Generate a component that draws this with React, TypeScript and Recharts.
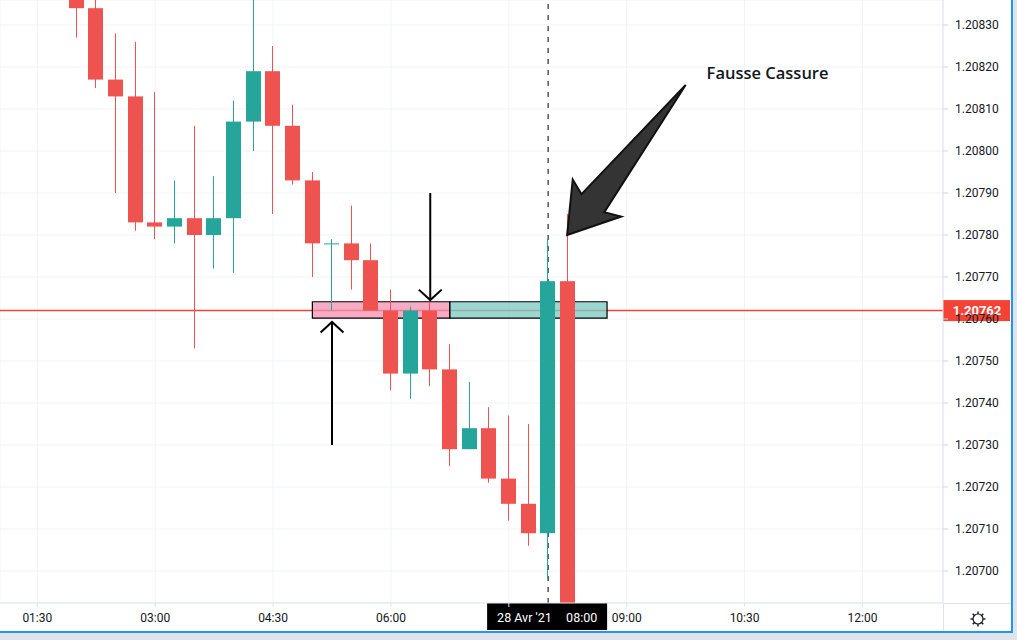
import React from 'react';
import {
  ComposedChart,
  Bar,
  XAxis,
  YAxis,
  CartesianGrid,
  ReferenceLine,
  ReferenceArea,
  ReferenceDot,
} from 'recharts';

// EUR/USD 15 min candles, 28 Avr '21 — time in minutes since 00:00
const times = [120, 135, 150, 165, 180, 195, 210, 225, 240, 255, 270, 285, 300, 315, 330, 345, 360, 375, 390, 405, 420, 435, 450, 465, 480, 495];
const opens = [1.2084, 1.20834, 1.20817, 1.20813, 1.20783, 1.20782, 1.20784, 1.2078, 1.20784, 1.20807, 1.20819, 1.20806, 1.20793, 1.20778, 1.20778, 1.20774, 1.20762, 1.20747, 1.20762, 1.20748, 1.20729, 1.20734, 1.20722, 1.20716, 1.20709, 1.20769];
const highs = [1.20846, 1.20841, 1.20828, 1.20826, 1.20814, 1.20793, 1.20806, 1.20794, 1.20812, 1.20842, 1.20825, 1.20811, 1.20795, 1.20779, 1.20787, 1.20778, 1.20767, 1.20763, 1.20764, 1.20754, 1.20745, 1.20739, 1.20737, 1.20735, 1.20779, 1.20785];
const lows = [1.20827, 1.20815, 1.2079, 1.20781, 1.20779, 1.20778, 1.20753, 1.20772, 1.20771, 1.208, 1.20785, 1.20792, 1.2077, 1.20762, 1.20767, 1.20762, 1.20743, 1.20741, 1.20744, 1.20725, 1.20729, 1.20721, 1.20712, 1.20706, 1.20698, 1.2067];
const closes = [1.20834, 1.20817, 1.20813, 1.20783, 1.20782, 1.20784, 1.2078, 1.20784, 1.20807, 1.20819, 1.20806, 1.20793, 1.20778, 1.20778, 1.20774, 1.20762, 1.20747, 1.20762, 1.20748, 1.20729, 1.20734, 1.20722, 1.20716, 1.20709, 1.20769, 1.20675];

const timeTicks = [90, 180, 270, 360, 450, 540, 630, 720];
const priceTicks = [1.207, 1.2071, 1.2072, 1.2073, 1.2074, 1.2075, 1.2076, 1.2077, 1.2078, 1.2079, 1.208, 1.2081, 1.2082, 1.2083];
const timeDomain = [61.5, 781.5];
const priceDomain = [1.2069238, 1.2083595];

const lastPrice = 1.20762;
const crosshairTime = 480;
const crosshairDate = "28 Avr '21";

// support zone drawn on the chart
const zoneBottom = 1.207602;
const zoneTop = 1.207641;
const zoneStart = 300;
const zoneSplit = 405;
const zoneEnd = 525;

const UP = '#26a69a';
const DOWN = '#ef5350';
const FONT = 'Roboto, "Open Sans", sans-serif';

const candles = times.map((t, i) => ({
  t,
  o: opens[i],
  h: highs[i],
  l: lows[i],
  c: closes[i],
  range: [lows[i], highs[i]],
}));

const fmtTime = (m: number) =>
  `${String(Math.floor(m / 60)).padStart(2, '0')}:${String(m % 60).padStart(2, '0')}`;

function Candle(props: any) {
  const { x, y, width, height, payload } = props;
  if (x == null || !payload) return null;
  const { o, h, l, c } = payload;
  const top = Math.min(y, y + height);
  const span = Math.abs(height);
  const k = h === l ? 0 : span / (h - l);
  const py = (v: number) => top + (h - v) * k;
  const color = c >= o ? UP : DOWN;
  const mid = Math.floor(x + width / 2);
  const bodyTop = py(Math.max(o, c));
  const bodyH = Math.max(1, py(Math.min(o, c)) - bodyTop);
  return (
    <g>
      <line x1={mid + 0.5} x2={mid + 0.5} y1={top} y2={top + span} stroke={color} strokeWidth={1} />
      <rect x={mid - 7} y={bodyTop} width={15} height={bodyH} fill={color} />
    </g>
  );
}

// thin black arrow, head at (x2, y2)
function ThinArrow(props: any) {
  const { x1, y1, x2, y2 } = props;
  const ang = Math.atan2(y1 - y2, x1 - x2);
  const spread = 0.83;
  const len = 15.5;
  const a = [ang - spread, ang + spread].map((t) => [x2 + Math.cos(t) * len, y2 + Math.sin(t) * len]);
  return (
    <g stroke="#000" strokeWidth={2} fill="none">
      <line x1={x1} y1={y1} x2={x2} y2={y2} />
      <polyline points={`${a[0][0]},${a[0][1]} ${x2},${y2} ${a[1][0]},${a[1][1]}`} />
    </g>
  );
}

// big filled arrow: tail at (x1, y1), tip at (x2, y2)
function BigArrow(props: any) {
  const { x1, y1, x2, y2 } = props;
  const len = Math.hypot(x1 - x2, y1 - y2);
  const ux = (x1 - x2) / len;
  const uy = (y1 - y2) / len;
  const vx = -uy;
  const vy = ux;
  const pt = (along: number, perp: number) => `${x2 + ux * along + vx * perp},${y2 + uy * along + vy * perp}`;
  const pts = [pt(0, 0), pt(47, -30), pt(41, -14), pt(len, 0), pt(41, 15), pt(48, 31)].join(' ');
  return <polygon points={pts} fill="#343434" stroke="#111" strokeWidth={2} strokeLinejoin="miter" />;
}

function NoteText(props: any) {
  const { cx, cy } = props;
  return (
    <text x={cx} y={cy} fill="#131722" fontSize={16.5} fontWeight={600} fontFamily='"Open Sans", sans-serif'>
      Fausse Cassure
    </text>
  );
}

function PriceTag(props: any) {
  const vb = props.viewBox || {};
  const x = vb.x + vb.width;
  const y = vb.y;
  return (
    <g>
      <rect x={x} y={y - 10.5} width={67} height={21} fill="#f44336" />
      <text x={x + 34} y={y} dy="0.36em" textAnchor="middle" fill="#fff" fontSize={13} fontWeight={700} fontFamily={FONT}>
        {lastPrice.toFixed(5)}
      </text>
    </g>
  );
}

function TimeTag(props: any) {
  const vb = props.viewBox || {};
  const x = vb.x;
  const y = vb.y + vb.height;
  return (
    <g fontFamily={FONT} fontSize={12.5} fill="#fff">
      <rect x={x - 61} y={y} width={120} height={27} fill="#000" />
      <text x={x - 51} y={y + 14} dy="0.36em">{crosshairDate}</text>
      <text x={x + 18} y={y + 14} dy="0.36em">{fmtTime(crosshairTime)}</text>
    </g>
  );
}

function Gear() {
  const spokes = Array.from({ length: 8 }, (_, i) => (i * Math.PI) / 4);
  return (
    <svg width={20} height={20} style={{ position: 'absolute', left: 968, top: 609 }}>
      <circle cx={10} cy={10} r={5} fill="none" stroke="#131722" strokeWidth={1.2} />
      {spokes.map((a, i) => (
        <line
          key={i}
          x1={10 + Math.cos(a) * 5}
          y1={10 + Math.sin(a) * 5}
          x2={10 + Math.cos(a) * 7.5}
          y2={10 + Math.sin(a) * 7.5}
          stroke="#131722"
          strokeWidth={1.4}
        />
      ))}
    </svg>
  );
}

export default function App() {
  return (
    <div style={{ position: 'relative', width: 1017, height: 640, background: '#e0e3eb', overflow: 'hidden' }}>
      <style>{'body{margin:0}'}</style>
      <div
        style={{
          position: 'absolute',
          left: 0,
          top: 0,
          width: 1011,
          height: 631,
          background: '#fff',
          borderRight: '2px solid #2196f3',
          borderBottom: '2px solid #2196f3',
        }}
      >
        <ComposedChart width={1011} height={631} data={candles} margin={{ top: 0, right: 0, bottom: 0, left: 0 }}>
          <CartesianGrid stroke="#f0f3fa" />
          <XAxis
            dataKey="t"
            type="number"
            domain={timeDomain}
            allowDataOverflow
            ticks={timeTicks}
            tickFormatter={(m) => (m === crosshairTime - 30 ? '' : fmtTime(m))}
            height={28}
            tickSize={4}
            tickMargin={6}
            axisLine={{ stroke: '#e0e3eb' }}
            tickLine={{ stroke: '#e0e3eb' }}
            tick={{ fill: '#131722', fontSize: 12, fontFamily: FONT }}
          />
          <YAxis
            orientation="right"
            type="number"
            domain={priceDomain}
            allowDataOverflow
            ticks={priceTicks}
            tickFormatter={(v) => v.toFixed(5)}
            width={68}
            tickSize={5}
            tickMargin={7}
            axisLine={{ stroke: '#e0e3eb' }}
            tickLine={{ stroke: '#d1d4dc' }}
            tick={{ fill: '#131722', fontSize: 12, fontFamily: FONT }}
          />
          <ReferenceLine y={lastPrice} stroke="#f44336" strokeWidth={1.5} label={<PriceTag />} zIndex={150} />
          <ReferenceArea
            x1={zoneStart}
            x2={zoneSplit}
            y1={zoneBottom}
            y2={zoneTop}
            fill="#f48fb1"
            fillOpacity={0.75}
            stroke="#000"
            strokeWidth={1.2}
            zIndex={200}
          />
          <ReferenceArea
            x1={zoneSplit}
            x2={zoneEnd}
            y1={zoneBottom}
            y2={zoneTop}
            fill="#80cbc4"
            fillOpacity={0.78}
            stroke="#000"
            strokeWidth={1.2}
            zIndex={200}
          />
          <ReferenceLine x={crosshairTime} stroke="#000" strokeDasharray="5 6" label={<TimeTag />} zIndex={150} />
          <Bar dataKey="range" barSize={15} shape={Candle} isAnimationActive={false} zIndex={300} />
          <ReferenceLine
            segment={[
              { x: 315, y: 1.2073 },
              { x: 315, y: 1.207593 },
            ]}
            shape={ThinArrow}
          />
          <ReferenceLine
            segment={[
              { x: 390, y: 1.2079 },
              { x: 390, y: 1.207645 },
            ]}
            shape={ThinArrow}
          />
          <ReferenceLine
            segment={[
              { x: 585, y: 1.208157 },
              { x: 494.5, y: 1.2078 },
            ]}
            shape={BigArrow}
          />
          <ReferenceDot x={601} y={1.2081714} r={0} shape={NoteText} />
        </ComposedChart>
        <svg width={1011} height={631} style={{ position: 'absolute', left: 0, top: 0, pointerEvents: 'none' }}>
          <line x1={943} y1={603.5} x2={1011} y2={603.5} stroke="#e0e3eb" />
          <line x1={943.5} y1={603} x2={943.5} y2={631} stroke="#e0e3eb" />
        </svg>
        <Gear />
      </div>
    </div>
  );
}
